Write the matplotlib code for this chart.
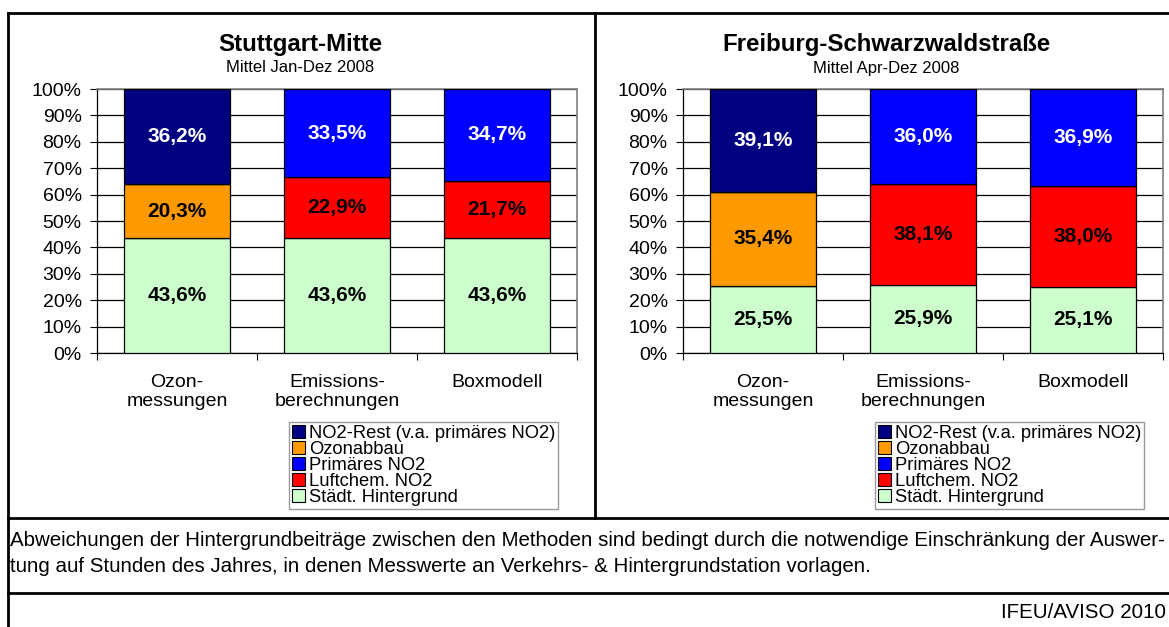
import matplotlib
matplotlib.use("Agg")
import matplotlib.pyplot as plt
from matplotlib.lines import Line2D
from matplotlib.patches import Patch

plt.rcParams['font.family'] = ['Liberation Sans', 'DejaVu Sans']

W, H = 1169, 627

categories = ["Ozon-\nmessungen", "Emissions-\nberechnungen", "Boxmodell"]

series_names = ["NO2-Rest (v.a. primäres NO2)", "Ozonabbau", "Primäres NO2",
                "Luftchem. NO2", "Städt. Hintergrund"]
series_colors = ["#000080", "#FF9900", "#0000FF", "#FF0000", "#CCFFCC"]
label_colors = ["white", "black", "white", "black", "black"]

# Stuttgart-Mitte
stg_rest = [36.2, 0, 0]
stg_ozonabbau = [20.3, 0, 0]
stg_primaer = [0, 33.5, 34.7]
stg_luftchem = [0, 22.9, 21.7]
stg_hintergrund = [43.6, 43.6, 43.6]

# Freiburg-Schwarzwaldstraße
frb_rest = [39.1, 0, 0]
frb_ozonabbau = [35.4, 0, 0]
frb_primaer = [0, 36.0, 36.9]
frb_luftchem = [0, 38.1, 38.0]
frb_hintergrund = [25.5, 25.9, 25.1]

panels = [
    dict(title="Stuttgart-Mitte", subtitle="Mittel Jan-Dez 2008",
         data=[stg_rest, stg_ozonabbau, stg_primaer, stg_luftchem, stg_hintergrund],
         ax_left=97, title_x=300, legend_x=289),
    dict(title="Freiburg-Schwarzwaldstraße", subtitle="Mittel Apr-Dez 2008",
         data=[frb_rest, frb_ozonabbau, frb_primaer, frb_luftchem, frb_hintergrund],
         ax_left=683, title_x=886, legend_x=875),
]

def fx(x):
    return x / W

def fy(y):
    return 1 - y / H

fig = plt.figure(figsize=(W / 100, H / 100), dpi=100)
fig.patch.set_facecolor("white")

# stacking order bottom -> top: Hintergrund, Luftchem, Ozonabbau, Primäres, Rest
stack_order = [4, 3, 1, 2, 0]
xs = list(range(len(categories)))

for p in panels:
    ax = fig.add_axes([fx(p["ax_left"]), fy(353), 480 / W, 264 / H])
    bottoms = [0.0] * len(xs)
    for si in stack_order:
        vals = p["data"][si]
        ax.bar(xs, vals, width=0.667, bottom=bottoms, color=series_colors[si],
               edgecolor="black", linewidth=0.9, zorder=3)
        for i, v in enumerate(vals):
            if v > 0:
                ax.text(xs[i], bottoms[i] + v / 2, f"{v:.1f}%".replace(".", ","),
                        ha="center", va="center", fontsize=15, fontweight="bold",
                        color=label_colors[si], zorder=4)
        bottoms = [b + v for b, v in zip(bottoms, vals)]
    ax.set_xlim(-0.5, 2.5)
    ax.set_ylim(0, 100)
    ax.set_yticks(range(0, 101, 10))
    ax.set_yticklabels([f"{t}%" for t in range(0, 101, 10)], fontsize=14)
    ax.set_xticks(xs)
    ax.set_xticklabels(categories, fontsize=14, linespacing=1.15)
    ax.set_xticks([-0.5, 0.5, 1.5, 2.5], minor=True)
    ax.tick_params(axis="x", which="major", length=0, pad=15)
    ax.tick_params(axis="x", which="minor", length=5, width=0.8, direction="out")
    ax.tick_params(axis="y", length=5, width=0.8, direction="out", pad=6)
    ax.yaxis.grid(True, color="black", linewidth=0.9)
    ax.set_axisbelow(True)
    for s in ["top", "right"]:
        ax.spines[s].set_color("#808080")
        ax.spines[s].set_linewidth(1.2)
    for s in ["left", "bottom"]:
        ax.spines[s].set_color("black")
        ax.spines[s].set_linewidth(0.9)

    fig.text(fx(p["title_x"]), fy(45), p["title"], ha="center", va="center",
             fontsize=17.3, fontweight="bold")
    fig.text(fx(p["title_x"]), fy(68), p["subtitle"], ha="center", va="center",
             fontsize=12)

    leg_handles = [Patch(facecolor=series_colors[i], edgecolor="black", linewidth=0.8)
                   for i in range(5)]
    leg = fig.legend(leg_handles, series_names, loc="upper left",
                     bbox_to_anchor=(fx(p["legend_x"]), fy(422)),
                     bbox_transform=fig.transFigure, fontsize=13.2,
                     frameon=True, fancybox=False, edgecolor="#808080",
                     borderpad=0.15, labelspacing=-0.05, handlelength=0.7,
                     handleheight=0.7, handletextpad=0.25, borderaxespad=0)
    leg.get_frame().set_linewidth(1.0)

# frame lines
lw = 2.0
lines = [
    ((8, 8), (13, H + 5)),
    ((8, W + 5), (13, 13)),
    ((595, 595), (13, 518)),
    ((8, W + 5), (518, 518)),
    ((8, W + 5), (593, 593)),
]
for (x0, x1), (y0, y1) in lines:
    fig.add_artist(Line2D([fx(x0), fx(x1)], [fy(y0), fy(y1)], color="black",
                          linewidth=lw, transform=fig.transFigure))

footer1 = ("Abweichungen der Hintergrundbeiträge zwischen den Methoden sind bedingt durch "
           "die notwendige Einschränkung der Auswer-")
footer2 = "tung auf Stunden des Jahres, in denen Messwerte an Verkehrs- & Hintergrundstation vorlagen."
fig.text(fx(10), fy(541), footer1, ha="left", va="center", fontsize=14.8)
fig.text(fx(10), fy(567), footer2, ha="left", va="center", fontsize=14.8)
fig.text(fx(1166), fy(613), "IFEU/AVISO 2010", ha="right", va="center", fontsize=14.8)

fig.savefig("out.png", dpi=100, facecolor="white")
